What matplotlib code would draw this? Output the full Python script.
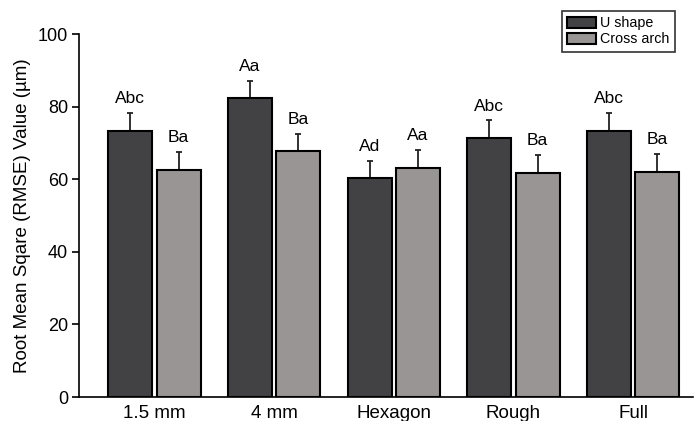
import numpy as np
import matplotlib.pyplot as plt

plt.rcParams['font.family'] = ['Liberation Sans', 'DejaVu Sans']

categories = ['1.5 mm', '4 mm', 'Hexagon', 'Rough', 'Full']
u_shape = [73.4, 82.4, 60.4, 71.3, 73.4]
u_err = [4.8, 4.7, 4.7, 4.9, 4.8]
u_labels = ['Abc', 'Aa', 'Ad', 'Abc', 'Abc']
cross_arch = [62.5, 67.8, 63.0, 61.8, 62.1]
cross_err = [5.0, 4.7, 5.0, 4.9, 4.8]
cross_labels = ['Ba', 'Ba', 'Aa', 'Ba', 'Ba']

fig = plt.figure(figsize=(7, 4.21), dpi=100)
ax = fig.add_axes([0.113, 0.057, 0.877, 0.862])

x = np.arange(len(categories))
w = 0.37
off = 0.202

for vals, errs, labs, col, name, sign in [
        (u_shape, u_err, u_labels, '#424244', 'U shape', -1),
        (cross_arch, cross_err, cross_labels, '#999595', 'Cross arch', 1)]:
    pos = x + sign * off
    ax.bar(pos, vals, width=w, color=col, edgecolor='black', linewidth=1.5,
           label=name, zorder=2)
    ax.errorbar(pos, vals, yerr=[np.zeros(len(errs)), errs], fmt='none',
                ecolor='#222222', elinewidth=1.3, capsize=2.5, capthick=1.3,
                zorder=1)
    for p, v, e, t in zip(pos, vals, errs, labs):
        ax.annotate(t, (p, v + e), xytext=(0, 5), textcoords='offset points',
                    ha='center', va='bottom', fontsize=12.5)

ax.set_xlim(-0.63, 4.5)
ax.set_ylim(0, 100)
ax.set_yticks([0, 20, 40, 60, 80, 100])
ax.set_xticks(x)
ax.set_xticklabels(categories)
ax.tick_params(axis='x', length=0, labelsize=13.5, pad=6)
ax.tick_params(axis='y', length=5, width=1.2, labelsize=13, pad=3)
ax.spines['top'].set_visible(False)
ax.spines['right'].set_visible(False)
ax.spines['left'].set_linewidth(1.2)
ax.spines['bottom'].set_linewidth(1.2)
ax.set_ylabel('Root Mean Sqare (RMSE) Value (µm)', fontsize=13.5, labelpad=5)

leg = fig.legend(loc='upper right', bbox_to_anchor=(0.975, 0.992), fontsize=10.3,
                 frameon=True, fancybox=False, edgecolor='black',
                 handlelength=2.0, handleheight=0.8, handletextpad=0.3,
                 labelspacing=0.15, borderpad=0.4)
leg.get_frame().set_linewidth(1.2)

fig.savefig('out.png', dpi=100)
